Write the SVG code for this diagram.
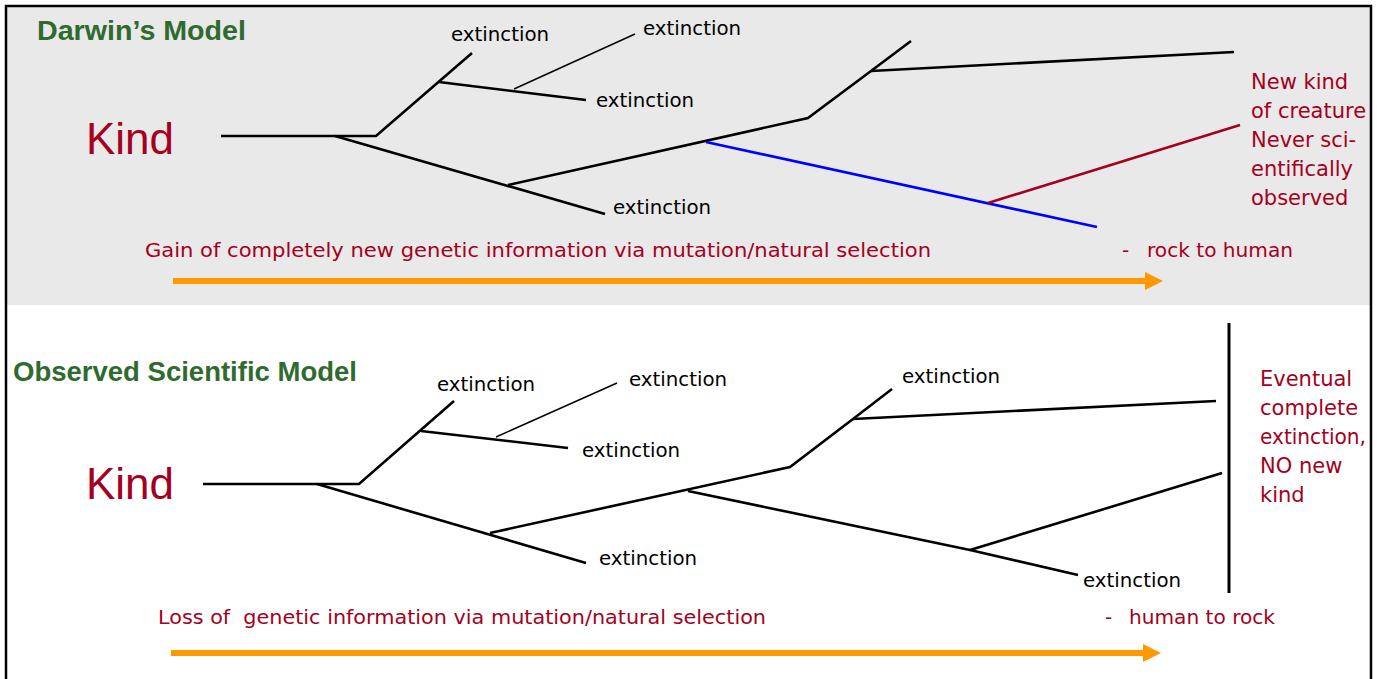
<svg xmlns="http://www.w3.org/2000/svg" width="1377" height="679" viewBox="0 0 1377 679">
<style>
.br{stroke:#000;stroke-width:2.6;fill:none;stroke-linecap:butt;stroke-linejoin:miter}
.thin{stroke:#000;stroke-width:1.5;fill:none}
.ext{font-family:"DejaVu Sans",sans-serif;font-size:19.8px;fill:#000}
.kind{font-family:"Liberation Sans",Arial,sans-serif;font-size:44px;fill:#a50021}
.head{font-family:"Liberation Sans",Arial,sans-serif;font-size:28px;font-weight:bold;fill:#2f6b2f}
.red{font-family:"DejaVu Sans",sans-serif;font-size:20px;fill:#a50021}
.note{font-family:"DejaVu Sans",sans-serif;font-size:21px;fill:#a50021}
.arr{stroke:#ff9900;stroke-width:6;fill:none}
</style>
<rect x="0" y="0" width="1377" height="679" fill="#ffffff"/>
<rect x="6" y="6" width="1365" height="299" fill="#e9e9e9"/>
<path d="M6,680 V6 H1371 V680" fill="none" stroke="#000" stroke-width="2.5"/>

<g id="connectors">
  <!-- Darwin's model tree -->
  <polyline class="br" points="221,136 376,136 472,53"/>
  <line class="br" x1="439" y1="82" x2="586" y2="100"/>
  <line class="thin" x1="514" y1="89" x2="635" y2="34"/>
  <line class="br" x1="335" y1="136" x2="605" y2="214"/>
  <polyline class="br" points="508,185 808,118 871,71 911,41"/>
  <line class="br" x1="871" y1="71" x2="1234" y2="52"/>
  <line stroke="#0000ff" stroke-width="2.6" x1="706" y1="142" x2="1097" y2="227"/>
  <line stroke="#a50021" stroke-width="2.6" x1="988" y1="203" x2="1240" y2="125"/>
  <line class="arr" x1="173" y1="281" x2="1146" y2="281"/>
  <polygon points="1145,272 1163,281 1145,290" fill="#ff9900"/>

  <!-- Observed scientific model tree -->
  <polyline class="br" points="203,484 359,484 454,401"/>
  <line class="br" x1="421" y1="431" x2="568" y2="448"/>
  <line class="thin" x1="496" y1="437" x2="617" y2="383"/>
  <line class="br" x1="317" y1="484" x2="586" y2="563"/>
  <polyline class="br" points="490,533 790,467 853,419 892,389"/>
  <line class="br" x1="853" y1="419" x2="1216" y2="401"/>
  <polyline class="br" points="688,491 970,550 1078,575"/>
  <line class="br" x1="970" y1="550" x2="1222" y2="473"/>
  <line stroke="#000" stroke-width="3" x1="1229" y1="323" x2="1229" y2="593"/>
  <line class="arr" x1="171" y1="653" x2="1144" y2="653"/>
  <polygon points="1143,644 1161,653 1143,662" fill="#ff9900"/>
</g>

<g id="darwin-title"><text class="head" x="37" y="40" textLength="209" lengthAdjust="spacingAndGlyphs">Darwin’s Model</text></g>
<g id="darwin-kind"><text class="kind" x="86" y="154">Kind</text></g>
<g id="d-ext1"><text class="ext" x="451" y="41">extinction</text></g>
<g id="d-ext2"><text class="ext" x="643" y="35">extinction</text></g>
<g id="d-ext3"><text class="ext" x="596" y="107">extinction</text></g>
<g id="d-ext4"><text class="ext" x="613" y="214">extinction</text></g>
<g id="d-newkind">
  <text class="note" x="1251" y="89">New kind</text>
  <text class="note" x="1251" y="118">of creature</text>
  <text class="note" x="1251" y="147">Never sci-</text>
  <text class="note" x="1251" y="176">entifically</text>
  <text class="note" x="1251" y="205">observed</text>
</g>
<g id="d-gain"><text class="red" x="145" y="257" textLength="786" lengthAdjust="spacingAndGlyphs">Gain of completely new genetic information via mutation/natural selection</text></g>
<g id="d-rock"><text class="red" x="1122" y="257">-</text><text class="red" x="1147" y="257" textLength="146" lengthAdjust="spacingAndGlyphs">rock to human</text></g>

<g id="obs-title"><text class="head" x="13" y="381" textLength="344" lengthAdjust="spacingAndGlyphs">Observed Scientific Model</text></g>
<g id="obs-kind"><text class="kind" x="86" y="499">Kind</text></g>
<g id="o-ext1"><text class="ext" x="437" y="391">extinction</text></g>
<g id="o-ext2"><text class="ext" x="629" y="386">extinction</text></g>
<g id="o-ext3"><text class="ext" x="582" y="457">extinction</text></g>
<g id="o-ext4"><text class="ext" x="599" y="565">extinction</text></g>
<g id="o-ext5"><text class="ext" x="902" y="383">extinction</text></g>
<g id="o-ext6"><text class="ext" x="1083" y="587">extinction</text></g>
<g id="o-eventual">
  <text class="note" x="1260" y="386">Eventual</text>
  <text class="note" x="1260" y="415">complete</text>
  <text class="note" x="1260" y="444" textLength="106" lengthAdjust="spacingAndGlyphs">extinction,</text>
  <text class="note" x="1260" y="473">NO new</text>
  <text class="note" x="1260" y="502">kind</text>
</g>
<g id="o-loss"><text class="red" x="158" y="624" textLength="608" lengthAdjust="spacingAndGlyphs" xml:space="preserve">Loss of  genetic information via mutation/natural selection</text></g>
<g id="o-rock"><text class="red" x="1105" y="624">-</text><text class="red" x="1129" y="624" textLength="146" lengthAdjust="spacingAndGlyphs">human to rock</text></g>
</svg>
